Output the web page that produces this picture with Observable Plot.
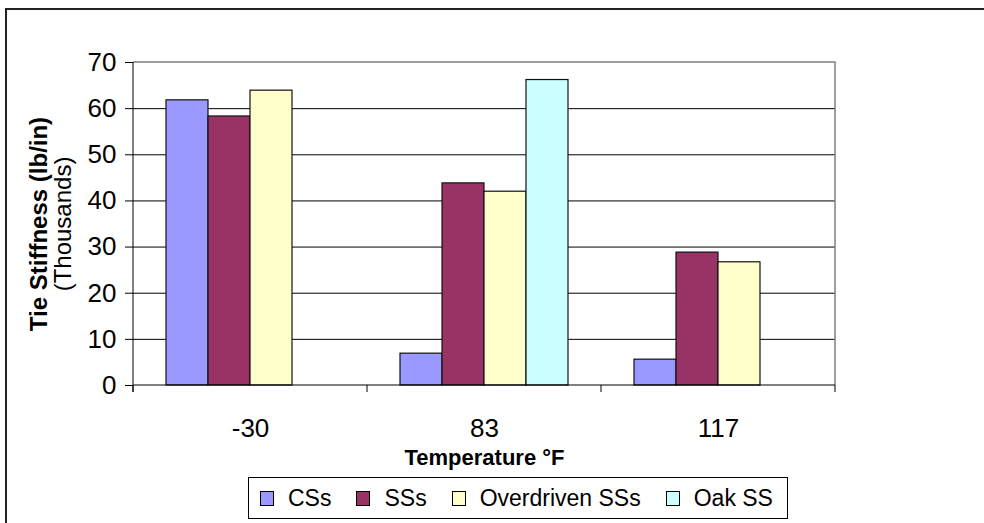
<!DOCTYPE html>
<html>
<head>
<meta charset="utf-8">
<script src="https://cdn.jsdelivr.net/npm/d3@7"></script>
<script src="https://cdn.jsdelivr.net/npm/@observablehq/plot@0.6"></script>
<style>
  html, body { margin: 0; padding: 0; background: #fff; }
  body { width: 984px; height: 523px; position: relative; overflow: hidden; font-family: "Liberation Sans", Arial, sans-serif; }
  #outer { position: absolute; left: 5px; top: 8px; width: 1100px; height: 700px; border-left: 2px solid #222; border-top: 2px solid #222; pointer-events: none; }
  #chart svg { display: block; }
  [aria-label="y-axis label"] { font-size: 24px; }
  [aria-label="y-axis label"] tspan:first-child { font-weight: bold; }
  #legend { position: absolute; left: 248px; top: 477px; height: 42px; border: 1px solid #000; display: flex; align-items: center; padding: 0 14px 0 11px; box-sizing: border-box; background: #fff; }
  .item { display: flex; align-items: center; font-size: 23px; color: #000; margin-right: 25px; }
  .item:last-child { margin-right: 0; }
  .sw { width: 12px; height: 13px; border: 1px solid #000; margin-right: 14px; }
</style>
</head>
<body>
<div id="chart"></div>
<div id="legend"></div>
<div id="outer"></div>
<script>
// ---- data ----
const temperatures = ["-30", "83", "117"];
const seriesNames = ["CSs", "SSs", "Overdriven SSs", "Oak SS"];
const seriesColors = ["#9999FF", "#993366", "#FFFFCC", "#CCFFFF"];
const CSs = [61.8, 6.9, 5.6];
const SSs = [58.3, 43.8, 28.8];
const overdrivenSSs = [63.9, 42.0, 26.7];
const oakSS = [null, 66.2, null];
const yTicks = [0, 10, 20, 30, 40, 50, 60, 70];
const xTitle = "Temperature °F";
const yTitle = "Tie Stiffness (lb/in)\n(Thousands)";

const seriesValues = [CSs, SSs, overdrivenSSs, oakSS];
const rows = [];
temperatures.forEach((t, i) => {
  seriesNames.forEach((s, j) => {
    const v = seriesValues[j][i];
    if (v != null) rows.push({temp: t, series: s, value: v});
  });
});

const decor = Plot.frame({
  facet: "super",
  render(index, scales, values, dimensions) {
    const {fx, y} = scales;
    const g = d3.create("svg:g");
    const [xl, xr] = fx.range();
    const yb = y(0), yt = y(yTicks[yTicks.length - 1]);
    g.append("path")
      .attr("d", `M${xl},${yt}H${xr}V${yb}`)
      .attr("fill", "none").attr("stroke", "#808080").attr("stroke-width", 1.5);
    g.append("line")
      .attr("x1", xl).attr("x2", xl).attr("y1", yt).attr("y2", yb + 7)
      .attr("stroke", "#000");
    g.append("line")
      .attr("x1", xl).attr("x2", xr).attr("y1", yb).attr("y2", yb)
      .attr("stroke", "#000");
    const edges = fx.domain().map((d) => fx(d)).concat([xr]);
    for (const e of edges) {
      g.append("line").attr("x1", e).attr("x2", e).attr("y1", yb).attr("y2", yb + 7).attr("stroke", "#000");
    }
    return g.node();
  }
});

const chart = Plot.plot({
  width: 984,
  height: 470,
  marginLeft: 133,
  marginRight: 149,
  marginTop: 62,
  marginBottom: 85,
  style: {fontFamily: '"Liberation Sans", Arial, sans-serif', color: "#000", background: "#fff", overflow: "visible"},
  fx: {domain: temperatures, padding: 0},
  x: {domain: seriesNames, paddingInner: 0, paddingOuter: 0.75, axis: null},
  y: {domain: [0, 70]},
  color: {domain: seriesNames, range: seriesColors},
  marks: [
    Plot.ruleY(yTicks.slice(1, -1), {stroke: "#000", strokeWidth: 1}),
    Plot.barY(rows, {fx: "temp", x: "series", y: "value", fill: "series", stroke: "#111", strokeWidth: 1.2}),
    Plot.axisY({ticks: yTicks, tickSize: 8, tickPadding: 9, fontSize: 26, stroke: "#000",
      label: yTitle, labelAnchor: "center", labelArrow: "none", labelOffset: 104}),
    Plot.axisFx({anchor: "bottom", tickSize: 0, tickPadding: 33, fontSize: 26, label: null}),
    Plot.axisFx({anchor: "bottom", ticks: [], tickSize: 0, fontSize: 22, fontWeight: "bold",
      label: xTitle, labelAnchor: "center", labelOffset: 79, dx: -15}),
    decor
  ]
});
document.getElementById("chart").appendChild(chart);

// legend built from the series arrays
const legend = d3.select("#legend");
seriesNames.forEach((s, i) => {
  const it = legend.append("div").attr("class", "item");
  it.append("div").attr("class", "sw").style("background", seriesColors[i]);
  it.append("span").text(s);
});
</script>
</body>
</html>
